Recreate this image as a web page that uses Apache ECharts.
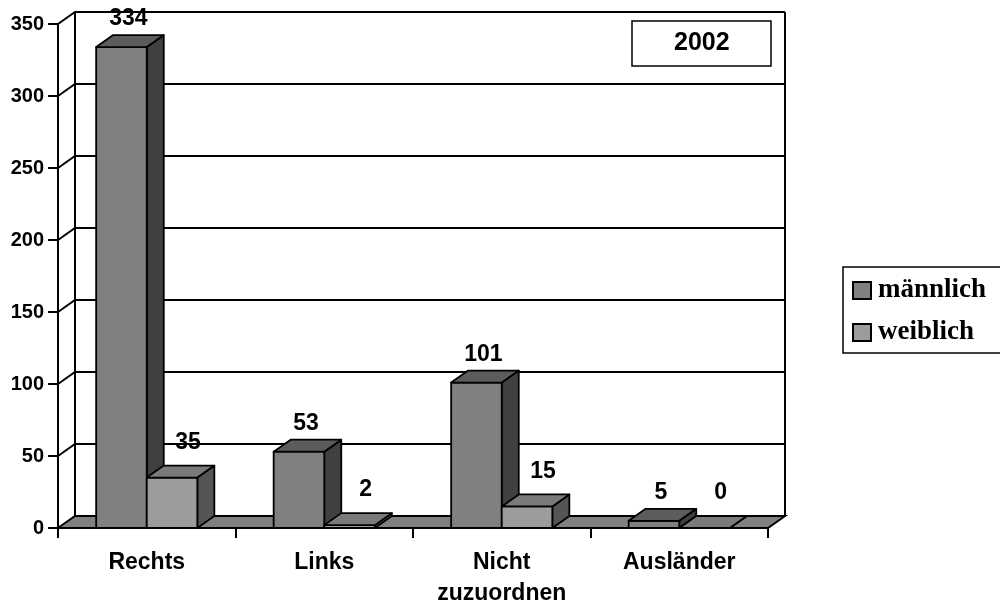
<!DOCTYPE html>
<html lang="de">
<head>
    <meta charset="UTF-8">
    <title>2002</title>
    <script src="https://cdn.jsdelivr.net/npm/echarts@6/dist/echarts.min.js"></script>
    <style>
        html, body { margin: 0; padding: 0; background: #fff; }
        #chart { width: 1000px; height: 601px; }
    </style>
</head>
<body>
<div id="chart"></div>
<script type="text/javascript">
    // Daten
    var categories = ['Rechts', 'Links', 'Nicht\nzuzuordnen', 'Ausländer'];
    var maennlich = [334, 53, 101, 5];
    var weiblich = [35, 2, 15, 0];
    var yTicks = [0, 50, 100, 150, 200, 250, 300, 350];
    var seriesNames = ['männlich', 'weiblich'];

    // 3D-Tiefe (px)
    var DX = 17, DY = 12;
    var sansBold = 'bold 23px "Liberation Sans", Arial, sans-serif';

    function barRenderer(side, colors, lblDx, lblDy) {
        return function (params, api) {
            var idx = api.value(0), v = api.value(1);
            var base = api.coord([idx, 0]);
            var top = api.coord([idx, v]);
            var band = api.size([1, 0])[0];
            var w = band * 0.285;
            var x0 = side === 0 ? base[0] - w : base[0];
            var x1 = x0 + w;
            var y0 = base[1], y1 = top[1];
            var line = {stroke: '#000', lineWidth: 1.8, lineJoin: 'round'};
            return {
                type: 'group',
                children: [
                    {type: 'polygon', shape: {points: [[x1, y0], [x1 + DX, y0 - DY], [x1 + DX, y1 - DY], [x1, y1]]},
                        style: Object.assign({fill: colors[1]}, line)},
                    {type: 'rect', shape: {x: x0, y: y1, width: w, height: y0 - y1},
                        style: Object.assign({fill: colors[0]}, line)},
                    {type: 'polygon', shape: {points: [[x0, y1], [x1, y1], [x1 + DX, y1 - DY], [x0 + DX, y1 - DY]]},
                        style: Object.assign({fill: colors[2]}, line)},
                    {type: 'text', x: (x0 + x1) / 2 + lblDx, y: y1 + lblDy,
                        style: {text: String(v), font: sansBold, fill: '#000', align: 'center', verticalAlign: 'middle'}}
                ]
            };
        };
    }

    function frameRenderer(params, api) {
        var cs = params.coordSys;
        var v = api.value(1);
        var y = api.coord([0, v])[1];
        var xl = cs.x, xr = cs.x + cs.width;
        var children = [];
        var line = {stroke: '#000', lineWidth: 2, fill: null};
        if (v === 0) {
            children.push({type: 'polygon',
                shape: {points: [[xl, y], [xr, y], [xr + DX, y - DY], [xl + DX, y - DY]]},
                style: {fill: '#808080', stroke: '#000', lineWidth: 2}});
            // Rückwand-Kanten
            children.push({type: 'line', shape: {x1: xl + DX, y1: y - DY, x2: xl + DX, y2: cs.y - DY}, style: line});
            children.push({type: 'line', shape: {x1: xr + DX, y1: y - DY, x2: xr + DX, y2: cs.y - DY}, style: line});
        } else {
            children.push({type: 'polyline',
                shape: {points: [[xl, y], [xl + DX, y - DY], [xr + DX, y - DY]]}, style: line});
        }
        return {type: 'group', children: children};
    }

    var chart = echarts.init(document.getElementById('chart'));
    var option = {
        animation: false,
        title: {
            text: '2002',
            left: 632,
            top: 21,
            padding: [10, 42],
            borderColor: '#000',
            borderWidth: 1.5,
            textStyle: {fontFamily: '"Liberation Sans", Arial, sans-serif', fontWeight: 'bold', fontSize: 25, color: '#000'}
        },
        legend: {
            data: seriesNames,
            orient: 'vertical',
            left: 843,
            top: 267,
            padding: [10, 30, 7, 9],
            itemGap: 15,
            itemWidth: 18,
            itemHeight: 17,
            icon: 'rect',
            borderColor: '#000',
            borderWidth: 1.5,
            itemStyle: {borderColor: '#000', borderWidth: 2},
            textStyle: {fontFamily: '"Liberation Serif", "Times New Roman", serif', fontWeight: 'bold', fontSize: 27, color: '#000', padding: [0, 0, 0, 2]}
        },
        grid: {left: 58, right: 232, top: 24, bottom: 73, containLabel: false, outerBoundsMode: 'none'},
        xAxis: {
            type: 'category',
            data: categories,
            boundaryGap: true,
            axisLine: {show: true, lineStyle: {color: '#000', width: 2}},
            axisTick: {show: true, length: 10, lineStyle: {color: '#000', width: 2}},
            axisLabel: {color: '#000', fontFamily: '"Liberation Sans", Arial, sans-serif', fontWeight: 'bold', fontSize: 23, margin: 19, lineHeight: 31},
            splitLine: {show: false}
        },
        yAxis: {
            type: 'value',
            min: 0,
            max: 350,
            interval: 50,
            axisLine: {show: true, lineStyle: {color: '#000', width: 2}},
            axisTick: {show: true, length: 10, lineStyle: {color: '#000', width: 2}},
            axisLabel: {color: '#000', fontFamily: '"Liberation Sans", Arial, sans-serif', fontWeight: 'bold', fontSize: 20, margin: 14},
            splitLine: {show: false}
        },
        series: [
            {
                name: 'frame',
                type: 'custom',
                silent: true,
                renderItem: frameRenderer,
                data: yTicks.map(function (v) { return [0, v]; }),
                z: 1
            },
            {
                name: seriesNames[0],
                type: 'custom',
                renderItem: barRenderer(0, ['#808080', '#404040', '#5c5c5c'], 7, -28),
                itemStyle: {color: '#808080'},
                data: maennlich.map(function (v, i) { return [i, v]; }),
                z: 3
            },
            {
                name: seriesNames[1],
                type: 'custom',
                renderItem: barRenderer(1, ['#9c9c9c', '#555555', '#7a7a7a'], 16, -35),
                itemStyle: {color: '#9c9c9c'},
                data: weiblich.map(function (v, i) { return [i, v]; }),
                z: 4
            }
        ]
    };
    chart.setOption(option);
</script>
</body>
</html>
